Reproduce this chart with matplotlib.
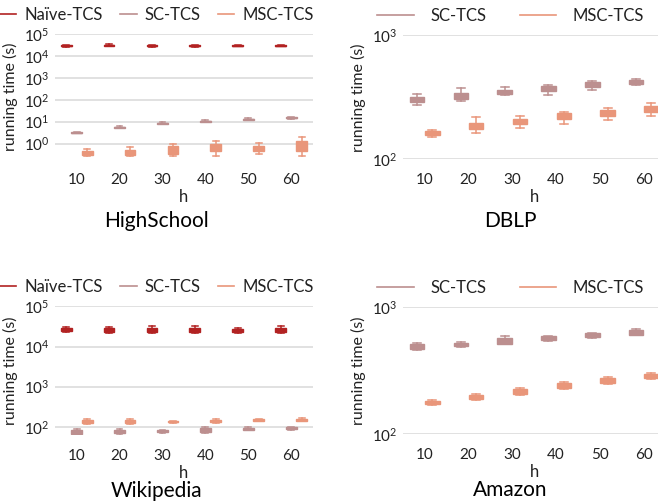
import matplotlib

matplotlib.use("Agg")
import matplotlib.pyplot as plt
from matplotlib.lines import Line2D

plt.rcParams["font.family"] = ["Lato", "DejaVu Sans"]
plt.rcParams["mathtext.fontset"] = "custom"
plt.rcParams["mathtext.rm"] = "Lato"

INK = "#222222"
GRID = "#dcdcdc"
NAIVE = "#b22222"
SC = "#bc8f8f"
MSC = "#e9967a"

H = [10, 20, 30, 40, 50, 60]

# box statistics per h: (whisker low, q1, median, q3, whisker high), seconds
HS_NAIVE = [(27500, 28800, 29800, 30800, 31500), (28500, 30000, 31500, 33000, 35000),
            (27500, 29000, 29800, 30800, 32500), (27500, 29000, 30000, 31000, 33500),
            (28000, 29000, 30000, 31000, 33500), (28000, 29000, 30000, 31000, 33000)]
HS_SC = [(2.9, 3.0, 3.2, 3.4, 3.5), (5.2, 5.4, 5.7, 6.0, 6.3), (7.5, 7.9, 8.3, 8.8, 9.2),
         (9.5, 10.0, 10.6, 11.2, 11.8), (11.5, 12.3, 13.2, 14.0, 15.0),
         (13.2, 14.2, 15.1, 16.2, 17.2)]
HS_MSC = [(0.26, 0.29, 0.36, 0.45, 0.56), (0.28, 0.31, 0.40, 0.53, 0.70),
          (0.28, 0.35, 0.55, 0.80, 1.0), (0.28, 0.48, 0.70, 1.0, 1.3),
          (0.32, 0.44, 0.60, 0.80, 1.1), (0.28, 0.47, 0.75, 1.25, 2.0)]

DBLP_SC = [(272, 288, 303, 320, 336), (295, 306, 322, 344, 374), (328, 334, 348, 362, 380),
           (332, 356, 372, 392, 398), (360, 381, 400, 418, 426), (400, 405, 420, 433, 442)]
DBLP_MSC = [(150, 156, 162, 169, 173), (162, 175, 185, 197, 219), (178, 193, 201, 211, 223),
            (193, 211, 222, 235, 239), (208, 223, 236, 250, 259), (222, 240, 255, 271, 284)]

WIKI_NAIVE = [(23500, 24500, 26500, 28500, 30500), (21900, 23000, 25000, 28500, 30700),
              (22000, 23000, 26000, 29500, 31900), (21500, 23000, 26000, 29500, 33000),
              (22000, 23500, 25000, 28000, 29500), (21500, 23000, 26500, 29500, 32500)]
WIKI_SC = [(65, 68, 75, 82, 87), (66, 71, 76, 83, 87), (70, 73, 78, 83, 86),
           (72, 76, 84, 92, 102), (82, 84, 89, 94, 97), (85, 87, 92, 98, 102)]
WIKI_MSC = [(119, 123, 136, 149, 160), (119, 126, 138, 149, 160), (128, 131, 135, 141, 143),
            (128, 133, 142, 151, 160), (138, 141, 148, 155, 160), (139, 141, 150, 158, 164)]

AMZ_SC = [(460, 469, 490, 510, 523), (489, 495, 508, 522, 530), (510, 516, 540, 569, 590),
          (540, 549, 568, 590, 598), (572, 580, 600, 624, 632), (600, 608, 635, 662, 675)]
AMZ_MSC = [(170, 173, 178, 183, 186), (187, 190, 196, 203, 206), (203, 208, 216, 226, 232),
           (225, 232, 242, 251, 256), (250, 254, 264, 275, 280), (270, 275, 286, 298, 302)]

PANELS = [
    ("HighSchool", [("Naïve-TCS", NAIVE, HS_NAIVE), ("SC-TCS", SC, HS_SC), ("MSC-TCS", MSC, HS_MSC)],
     (0.19, 1e5), [1e0, 1e1, 1e2, 1e3, 1e4, 1e5]),
    ("DBLP", [("SC-TCS", SC, DBLP_SC), ("MSC-TCS", MSC, DBLP_MSC)],
     (100, 1000), [1e2, 1e3]),
    ("Wikipedia", [("Naïve-TCS", NAIVE, WIKI_NAIVE), ("SC-TCS", SC, WIKI_SC), ("MSC-TCS", MSC, WIKI_MSC)],
     (62, 1e5), [1e2, 1e3, 1e4, 1e5]),
    ("Amazon", [("SC-TCS", SC, AMZ_SC), ("MSC-TCS", MSC, AMZ_MSC)],
     (100, 1000), [1e2, 1e3]),
]

W, HGT = 658, 503
# axes rectangles in pixels (left, top, width, height) and title offset below axes
AX_RECTS = [(55.2, 34.3, 257.4, 125.0), (402.7, 35.3, 263.0, 124.0),
            (55.2, 306.3, 257.4, 129.0), (402.7, 307.3, 263.0, 126.7)]
TITLE_GAP = [62, 62, 56, 56]


def stats_for(rows, label):
    return [dict(whislo=r[0], q1=r[1], med=r[2], q3=r[3], whishi=r[4], label=label) for r in rows]


fig = plt.figure(figsize=(W / 100, HGT / 100), dpi=100)

for (name, series, ylim, yticks), (x0, y0, w, h), gap in zip(PANELS, AX_RECTS, TITLE_GAP):
    ax = fig.add_axes([x0 / W, 1 - (y0 + h) / HGT, w / W, h / HGT])
    n = len(series)
    if n == 3:
        offsets, bw = [-0.245, 0.0, 0.245], 0.25
    else:
        offsets, bw = [-0.175, 0.175], 0.33
    handles = []
    for (label, color, rows), off in zip(series, offsets):
        ax.bxp(stats_for(rows, label), positions=[i + off for i in range(len(H))],
               widths=bw, capwidths=bw * 0.55, patch_artist=True, showfliers=False,
               boxprops=dict(facecolor=color, edgecolor=color, lw=1.0),
               whiskerprops=dict(color=color, lw=1.1),
               capprops=dict(color=color, lw=1.1),
               medianprops=dict(color=color, lw=1.0))
        handles.append(Line2D([], [], color=color, lw=1.2, label=label))

    ax.set_yscale("log")
    ax.set_ylim(*ylim)
    ax.set_yticks(yticks)
    ax.minorticks_off()
    ax.set_xlim(-0.5, len(H) - 0.5)
    ax.set_xticks(range(len(H)))
    ax.set_xticklabels([str(v) for v in H])
    ax.tick_params(axis="both", length=0, labelsize=11, colors=INK)
    ax.tick_params(axis="x", pad=10)
    ax.tick_params(axis="y", pad=4)
    for s in ax.spines.values():
        s.set_visible(False)
    ax.yaxis.grid(True, color=GRID, lw=1.2)
    ax.set_axisbelow(True)

    ax.set_ylabel("running time (s)", fontsize=11.5, color=INK)
    ax.set_xlabel("h", fontsize=12, color=INK, va="center")
    ax.xaxis.set_label_coords(0.5, -37.7 / h)
    cx = 0.395 if n == 3 else 0.41
    ax.text(cx, -gap / h, name, transform=ax.transAxes, ha="center", va="center",
            fontsize=15, color="black")

    if n == 3:
        leg_kw = dict(handlelength=1.0, handletextpad=0.5, columnspacing=1.0)
    else:
        leg_kw = dict(handlelength=2.2, handletextpad=1.0, columnspacing=2.0)
    ax.legend(handles=handles, loc="center", bbox_to_anchor=(cx, 1 + 19.5 / h), ncol=n,
              frameon=False, fontsize=12, labelcolor=INK, borderaxespad=0, **leg_kw)

fig.savefig("out.png", dpi=100)
